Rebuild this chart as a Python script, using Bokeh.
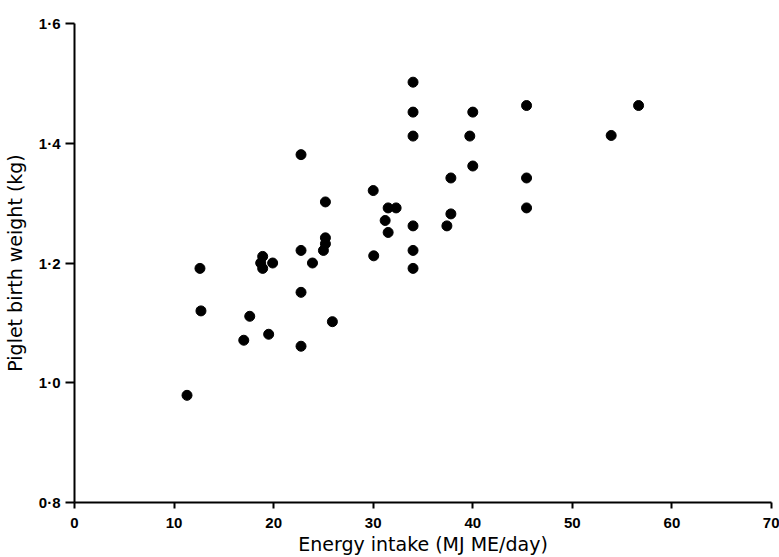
from bokeh.plotting import figure
from bokeh.models import ColumnDataSource, Range1d, FixedTicker, CustomJSTickFormatter
from bokeh.embed import file_html
from bokeh.resources import INLINE

energy_intake = [11.3, 12.6, 12.7, 17.0, 17.6, 19.5, 18.9, 18.7, 18.9, 19.9,
                 22.75, 22.75, 22.75, 22.75, 23.9, 25.2, 25.2, 25.2, 25.0, 25.9,
                 30.0, 30.05, 31.2, 31.5, 32.3, 31.5, 34.0, 34.0, 34.0, 34.0,
                 34.0, 34.0, 37.4, 37.8, 37.8, 39.7, 40.0, 40.0, 45.4, 45.4,
                 45.4, 53.9, 56.65]
birth_weight = [0.979, 1.191, 1.120, 1.071, 1.111, 1.081, 1.211, 1.200, 1.191, 1.200,
                1.381, 1.221, 1.151, 1.061, 1.200, 1.302, 1.242, 1.232, 1.221, 1.102,
                1.321, 1.212, 1.271, 1.292, 1.292, 1.251, 1.502, 1.452, 1.412, 1.262,
                1.221, 1.191, 1.262, 1.282, 1.342, 1.412, 1.452, 1.362, 1.463, 1.342,
                1.292, 1.413, 1.463]

x_ticks = [0, 10, 20, 30, 40, 50, 60, 70]
y_ticks = [0.8, 1.0, 1.2, 1.4, 1.6]

src = ColumnDataSource(data=dict(x=energy_intake, y=birth_weight))

p = figure(width=779, height=557, output_backend="svg", toolbar_location=None,
           x_range=Range1d(0, 70), y_range=Range1d(0.8, 1.6),
           min_border_left=74, min_border_right=8, min_border_top=23, min_border_bottom=54)
p.outline_line_color = None
p.xgrid.visible = False
p.ygrid.visible = False
p.background_fill_color = "white"
p.border_fill_color = "white"

p.scatter("x", "y", source=src, size=10, color="black", marker="circle")

tick_font = "Liberation Sans"
for ax in (p.xaxis[0], p.yaxis[0]):
    ax.axis_line_width = 2
    ax.axis_line_color = "black"
    ax.major_tick_line_width = 2
    ax.major_tick_line_color = "black"
    ax.minor_tick_line_color = None
    ax.major_tick_in = 0
    ax.major_label_text_font = tick_font
    ax.major_label_text_font_style = "bold"
    ax.major_label_text_font_size = "15px"
    ax.major_label_text_color = "black"
    ax.axis_label_text_font = "DejaVu Sans"
    ax.axis_label_text_font_style = "normal"
    ax.axis_label_text_font_size = "19px"
    ax.axis_label_text_color = "black"

p.xaxis.ticker = FixedTicker(ticks=x_ticks)
p.yaxis.ticker = FixedTicker(ticks=y_ticks)
p.yaxis.formatter = CustomJSTickFormatter(code="return tick.toFixed(1).replace('.', '\u00b7');")

p.xaxis.major_tick_out = 6
p.xaxis.major_label_standoff = 9
p.xaxis.axis_label = "Energy intake (MJ ME/day)"
p.xaxis.axis_label_standoff = 2

p.yaxis.major_tick_out = 9
p.yaxis.major_label_standoff = 5
p.yaxis.axis_label = "Piglet birth weight (kg)"
p.yaxis.axis_label_standoff = 10

open("out.html", "w").write(file_html(p, INLINE))
